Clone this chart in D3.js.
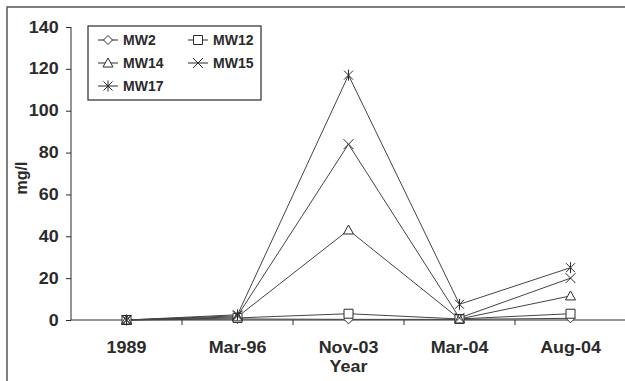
<!DOCTYPE html>
<html>
<head>
<meta charset="utf-8">
<script src="https://cdn.jsdelivr.net/npm/d3@7"></script>
<style>
  body { margin: 0; background: #fff; }
  svg { display: block; font-family: "Liberation Sans", Arial, sans-serif; font-weight: bold; }
</style>
</head>
<body>
<div id="chart"></div>
<script>
// Chart data
const years = ["1989", "Mar-96", "Nov-03", "Mar-04", "Aug-04"];
const seriesNames = ["MW2", "MW12", "MW14", "MW15", "MW17"];
const mw2 = [0, 0.5, 0.3, 0.3, 0.8];
const mw12 = [0, 1, 3, 0.5, 3];
const mw14 = [0, 1.5, 43, 0.5, 11.5];
const mw15 = [0, 2, 84, 1, 20];
const mw17 = [0, 2.5, 117, 7.5, 25];
const yTicks = [0, 20, 40, 60, 80, 100, 120, 140];

const width = 625, height = 381;
const ink = "#2b2b2b";
const stretch = 1.12; // scanned text is a little wider than the font

const series = [
  { name: seriesNames[0], values: mw2, shape: "diamond" },
  { name: seriesNames[1], values: mw12, shape: "square" },
  { name: seriesNames[2], values: mw14, shape: "triangle" },
  { name: seriesNames[3], values: mw15, shape: "cross" },
  { name: seriesNames[4], values: mw17, shape: "star" }
];

const svg = d3.select("#chart").append("svg")
  .attr("width", width)
  .attr("height", height);

// scanned frame (top and left edges)
svg.append("path")
  .attr("d", `M7,${height} L7,7 L${width},7`)
  .attr("fill", "none")
  .attr("stroke", "#555")
  .attr("stroke-width", 1.5);

const x = d3.scaleBand().domain(years).range([71, 626]).padding(0);
const y = d3.scaleLinear().domain([0, 140]).range([320, 27]);

// y axis
const yAxis = d3.axisLeft(y).tickValues(yTicks).tickSize(5).tickPadding(6);
const gy = svg.append("g").attr("transform", "translate(71,0)").call(yAxis);
gy.select(".domain").attr("stroke", ink).attr("d", "M0,320V27");
gy.selectAll(".tick line").attr("stroke", ink);
gy.selectAll(".tick text")
  .attr("fill", ink)
  .attr("transform", `scale(${stretch},1)`)
  .style("font-size", "16px")
  .style("font-weight", "bold");

// x axis line
svg.append("line")
  .attr("x1", 71).attr("x2", width)
  .attr("y1", y(0)).attr("y2", y(0))
  .attr("stroke", ink);

// tick marks between categories
svg.selectAll(".xtick")
  .data(years.slice(1))
  .enter().append("line")
  .attr("class", "xtick")
  .attr("x1", d => x(d)).attr("x2", d => x(d))
  .attr("y1", y(0)).attr("y2", y(0) + 5)
  .attr("stroke", ink);

svg.selectAll(".xlabel")
  .data(years)
  .enter().append("text")
  .attr("class", "xlabel")
  .attr("transform", d => `translate(${x(d) + x.bandwidth() / 2},353) scale(${stretch},1)`)
  .attr("text-anchor", "middle")
  .attr("fill", ink)
  .style("font-size", "16px")
  .text(d => d);

svg.append("text")
  .attr("transform", `translate(${x("Nov-03") + x.bandwidth() / 2},372) scale(${stretch},1)`)
  .attr("text-anchor", "middle")
  .attr("fill", ink)
  .style("font-size", "16px")
  .text("Year");

svg.append("text")
  .attr("transform", "translate(27,178) rotate(-90)")
  .attr("text-anchor", "middle")
  .attr("fill", ink)
  .style("font-size", "16px")
  .text("mg/l");

// marker shapes
function markerPath(shape) {
  switch (shape) {
    case "diamond": return "M0,-4.5L4.5,0L0,4.5L-4.5,0Z";
    case "square": return "M-4.5,-4.5H4.5V4.5H-4.5Z";
    case "triangle": return "M0,-5L5,4H-5Z";
    case "cross": return "M-5,-5L5,5M5,-5L-5,5";
    case "star": return "M-4.5,-4.5L4.5,4.5M4.5,-4.5L-4.5,4.5M0,-5.5V5.5";
  }
}

const line = d3.line()
  .x((d, i) => x(years[i]) + x.bandwidth() / 2)
  .y(d => y(d));

svg.selectAll(".series-line")
  .data(series)
  .enter().append("path")
  .attr("class", "series-line")
  .attr("d", d => line(d.values))
  .attr("fill", "none")
  .attr("stroke", "#444")
  .attr("stroke-width", 1);

series.forEach(s => {
  svg.selectAll(null)
    .data(s.values)
    .enter().append("path")
    .attr("transform", (d, i) => `translate(${x(years[i]) + x.bandwidth() / 2},${y(d)})`)
    .attr("d", markerPath(s.shape))
    .attr("fill", "#fff")
    .attr("stroke", ink)
    .attr("stroke-width", 1);
});

// legend
const legend = svg.append("g");
legend.append("rect")
  .attr("x", 88).attr("y", 26)
  .attr("width", 173).attr("height", 74)
  .attr("fill", "#fff")
  .attr("stroke", ink)
  .attr("stroke-width", 1.2);

const legendPos = [[108, 40], [198, 40], [108, 63], [198, 63], [108, 86]];
series.forEach((s, i) => {
  const [lx, ly] = legendPos[i];
  const g = legend.append("g").attr("transform", `translate(${lx},${ly})`);
  g.append("line").attr("x1", -10).attr("x2", 10).attr("stroke", ink);
  g.append("path").attr("d", markerPath(s.shape))
    .attr("fill", "#fff").attr("stroke", ink);
  g.append("text")
    .attr("x", 15).attr("y", 5)
    .attr("fill", ink)
    .style("font-size", "14px")
    .text(s.name);
});
</script>
</body>
</html>
